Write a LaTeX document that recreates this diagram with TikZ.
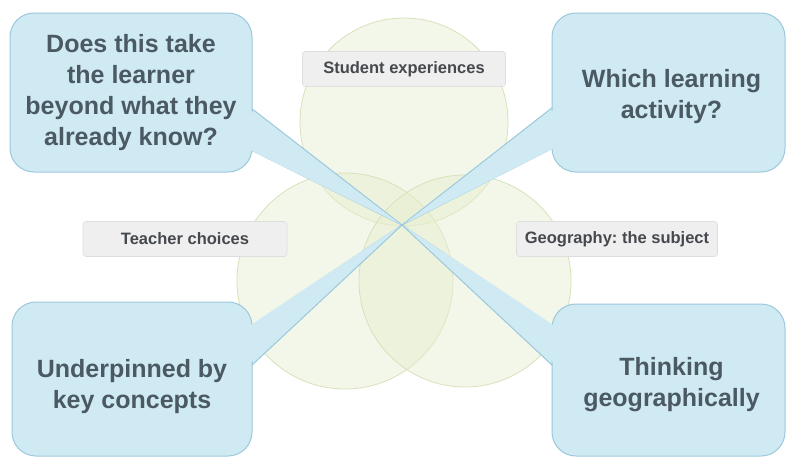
\documentclass[tikz,border=0pt]{standalone}
\usepackage{fontspec}
\setmainfont{Liberation Sans}
\usetikzlibrary{calc}
\frenchspacing
\definecolor{cfill}{HTML}{CFEAF3}
\definecolor{cline}{HTML}{9CC8DC}
\definecolor{ctext}{HTML}{4B5963}
\definecolor{vfill}{HTML}{E6EECF}
\definecolor{vline}{HTML}{D9E1B9}
\definecolor{lfill}{HTML}{EFEFEF}
\definecolor{lline}{HTML}{DEDEDE}
\definecolor{ltext}{HTML}{45494E}
\begin{document}
\begin{tikzpicture}[x=1pt,y=-1pt,
  venn/.style={circle,draw=vline,line width=0.8pt,fill=vfill,fill opacity=0.45,minimum size=#1},
  lab/.style={rectangle,rounded corners=3pt,draw=lline,fill=lfill,line width=0.6pt,
    text=ltext,font=\fontsize{16.5}{19}\selectfont\bfseries\frenchspacing,minimum height=35pt,inner sep=0pt},
  callout/.style={rectangle,rounded corners=24pt,draw=cline,fill=cfill,line width=1pt,inner sep=0pt},
  qtext/.style={text=ctext,align=center,font=\fontsize{25}{31}\selectfont\bfseries,inner sep=0pt},
  wedge/.style={fill=cfill,draw=cline,line width=1pt,line join=round},
  cover/.style={fill=cfill}]
\useasboundingbox (0,0) rectangle (787,459);
\fill[white] (0,0) rectangle (787,459);
% Venn circles
\node[venn=208pt] (cs) at (404,122) {};
\node[venn=216pt] (ct) at (345,281) {};
\node[venn=212pt] (cg) at (465,281) {};
% labels
\node[lab,minimum width=203pt] (ls) at (404,69) {Student experiences};
\node[lab,minimum width=204pt] (lt) at (185,239) {Teacher choices};
\node[lab,minimum width=201pt] (lg) at (617,239) {Geography: the subject};
% wedge tip and bases
\coordinate (tip) at (402,225);
\coordinate (a1) at (251,108); \coordinate (a2) at (251,150);
\coordinate (b1) at (553,107); \coordinate (b2) at (553,148);
\coordinate (c1) at (251,326); \coordinate (c2) at (251,366);
\coordinate (d1) at (553,326); \coordinate (d2) at (553,366);
\draw[wedge] (a1) -- (tip) -- (a2);
\draw[wedge] (b1) -- (tip) -- (b2);
\draw[wedge] (c1) -- (tip) -- (c2);
\draw[wedge] (d1) -- (tip) -- (d2);
% callout boxes
\node[callout,minimum width=242pt,minimum height=159pt] (q1) at (131,92.5) {};
\node[callout,minimum width=233pt,minimum height=159pt] (q2) at (668.5,92.5) {};
\node[callout,minimum width=240pt,minimum height=154pt] (q3) at (132,379) {};
\node[callout,minimum width=233pt,minimum height=152pt] (q4) at (668.5,380) {};
\node[qtext] (t1) at ($(q1.center)+(0,0)$) {Does this take\\the learner\\beyond what they\\already know?};
\node[qtext] (t2) at ($(q2.center)+(3,4)$) {Which learning\\activity?};
\node[qtext] (t3) at ($(q3.center)+(0,8)$) {Underpinned by\\key concepts};
\node[qtext] (t4) at ($(q4.center)+(3,5)$) {Thinking\\geographically};
% cover seams
\fill[cover] ($(a1)+(-3,1)$) -- ($(tip)+(-2,-1)$) -- ($(a2)+(-3,-1)$) -- cycle;
\fill[cover] ($(b1)+(3,1)$) -- ($(tip)+(2,-1)$) -- ($(b2)+(3,-1)$) -- cycle;
\fill[cover] ($(c1)+(-3,1)$) -- ($(tip)+(-2,1)$) -- ($(c2)+(-3,-1)$) -- cycle;
\fill[cover] ($(d1)+(3,1)$) -- ($(tip)+(2,1)$) -- ($(d2)+(3,-1)$) -- cycle;
\end{tikzpicture}
\end{document}
